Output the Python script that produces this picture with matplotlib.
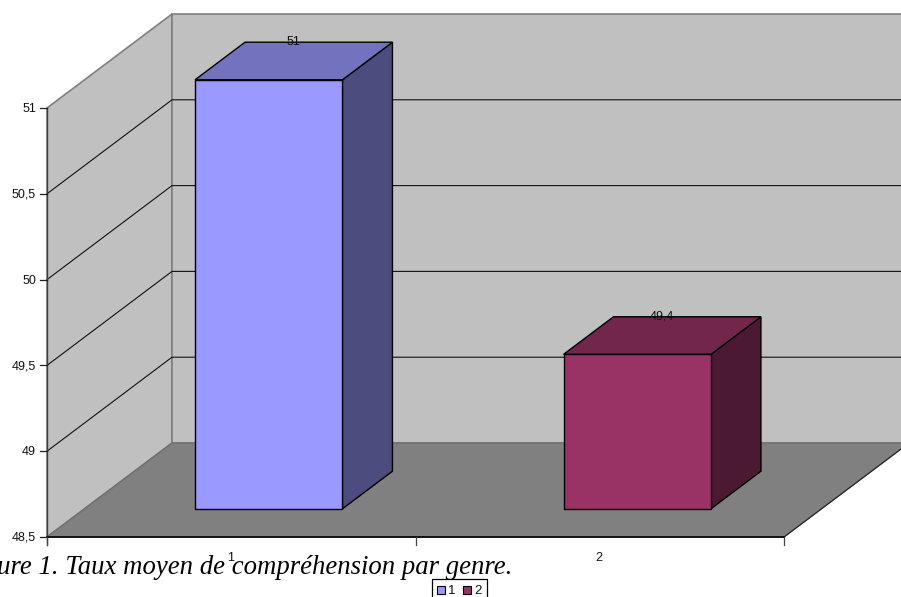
"""
Taux moyen de comprehension par genre - old style 3D bar chart
"""
import matplotlib
matplotlib.use("Agg")
import matplotlib.pyplot as plt
from matplotlib.patches import Polygon, Rectangle

categories = ['1', '2']
values = [51, 49.4]
value_labels = ['51', '49,4']
y_ticks = [48.5, 49, 49.5, 50, 50.5, 51]
y_tick_labels = ['48,5', '49', '49,5', '50', '50,5', '51']
caption = 'Figure 1. Taux moyen de compréhension par genre.'

front_colors = ['#9999FF', '#993366']
top_colors = ['#7272BF', '#72264C']
side_colors = ['#4C4C7F', '#4C1933']

# Oblique projection, pixels of the 901x597 picture
X0, Y0 = 47, 537
CAT_W = 368.5
VAL_H = 171.6
DEPTH_X, DEPTH_Y = 125, -94
Y_MIN, Y_MAX = y_ticks[0], y_ticks[-1]
BAR_W = 0.4
BAR_D0, BAR_D1 = 0.3, 0.7
LABEL_SIZE = 9


def proj(cat, val, depth=0):
    return (X0 + cat * CAT_W + depth * DEPTH_X,
            Y0 - (val - Y_MIN) * VAL_H + depth * DEPTH_Y)


def face(ax, pts, color, edge, lw=1.0, z=1):
    ax.add_patch(Polygon(pts, closed=True, facecolor=color, edgecolor=edge,
                         linewidth=lw, zorder=z, joinstyle='miter'))


fig = plt.figure(figsize=(9.01, 5.97), dpi=100)
ax = fig.add_axes([0, 0, 1, 1])
ax.set_xlim(0, 901)
ax.set_ylim(597, 0)
ax.axis('off')

n = len(categories)

# Walls and floor
face(ax, [proj(0, Y_MAX), proj(0, Y_MAX, 1), proj(0, Y_MIN, 1), proj(0, Y_MIN)],
     '#C0C0C0', '#808080', 1.2)
face(ax, [proj(0, Y_MAX, 1), proj(n, Y_MAX, 1), proj(n, Y_MIN, 1), proj(0, Y_MIN, 1)],
     '#C0C0C0', '#808080', 1.2)
face(ax, [proj(0, Y_MIN), proj(0, Y_MIN, 1), proj(n, Y_MIN, 1), proj(n, Y_MIN)],
     '#808080', '#707070', 1.0, z=2)

# Gridlines on the side and back wall
for v in y_ticks[1:-1]:
    p0, p1, p2 = proj(0, v), proj(0, v, 1), proj(n, v, 1)
    ax.plot([p0[0], p1[0], p2[0]], [p0[1], p1[1], p2[1]], color='#111111',
            linewidth=0.8, zorder=3)

# Right edge of the floor
p0, p1 = proj(n, Y_MIN), proj(n, Y_MIN, 1)
ax.plot([p0[0], p1[0]], [p0[1], p1[1]], color='#222222', linewidth=0.8, zorder=3)

# Axes and ticks
p0, p1 = proj(0, Y_MIN), proj(0, Y_MAX)
ax.plot([p0[0], p1[0]], [p0[1] + 8, p1[1]], color='#404040', linewidth=1.0, zorder=4)
p1 = proj(n, Y_MIN)
ax.plot([p0[0], p1[0]], [p0[1], p1[1]], color='black', linewidth=1.2, zorder=4)
for v, lab in zip(y_ticks, y_tick_labels):
    px, py = proj(0, v)
    ax.plot([px - 7, px], [py, py], color='#222222', linewidth=0.9, zorder=4)
    ax.text(px - 11, py + 1, lab, ha='right', va='center', fontsize=LABEL_SIZE,
            family='Liberation Sans', color='#111111')
for i in range(n + 1):
    px, py = proj(i, Y_MIN)
    ax.plot([px, px], [py, py + 8], color='#444444', linewidth=0.9, zorder=4)

# Bars
for i, v in enumerate(values):
    left = i + 0.5 - BAR_W / 2
    right = i + 0.5 + BAR_W / 2
    face(ax, [proj(right, Y_MIN, BAR_D0), proj(right, Y_MIN, BAR_D1),
              proj(right, v, BAR_D1), proj(right, v, BAR_D0)],
         side_colors[i], 'black', 1.0, z=5)
    face(ax, [proj(left, v, BAR_D0), proj(left, v, BAR_D1),
              proj(right, v, BAR_D1), proj(right, v, BAR_D0)],
         top_colors[i], 'black', 1.0, z=5)
    face(ax, [proj(left, Y_MIN, BAR_D0), proj(right, Y_MIN, BAR_D0),
              proj(right, v, BAR_D0), proj(left, v, BAR_D0)],
         front_colors[i], 'black', 1.0, z=5)
    lx = proj(i + 0.5, v, (BAR_D0 + BAR_D1) / 2)[0]
    ly = proj(i + 0.5, v, BAR_D1)[1]
    ax.text(lx, ly, value_labels[i], ha='center', va='center', fontsize=LABEL_SIZE,
            family='Liberation Sans', color='#111111', zorder=6)

# Caption runs off the left edge in the original
ax.text(513, 574, caption, ha='right', va='baseline', fontsize=19.3,
        family='Liberation Serif', style='italic', color='black', zorder=6)

# Category labels sit over the caption
for i, lab in enumerate(categories):
    px, py = proj(i + 0.5, Y_MIN)
    ax.text(px - 1, py + 21, lab, ha='center', va='center', fontsize=LABEL_SIZE,
            family='Liberation Sans', color='#111111', zorder=7)

# Legend, cut by the bottom edge
ax.add_patch(Rectangle((432, 579), 55, 24, facecolor='white', edgecolor='black',
                       linewidth=0.9, zorder=6, clip_on=True))
for i, lab in enumerate(categories):
    sx = 437 + i * 26
    ax.add_patch(Rectangle((sx, 586), 8, 8, facecolor=front_colors[i], edgecolor='black',
                           linewidth=0.8, zorder=7))
    ax.text(sx + 11, 590.5, lab, ha='left', va='center', fontsize=9.5,
            family='Liberation Sans', color='#111111', zorder=7)

fig.savefig('out.png', dpi=100)
